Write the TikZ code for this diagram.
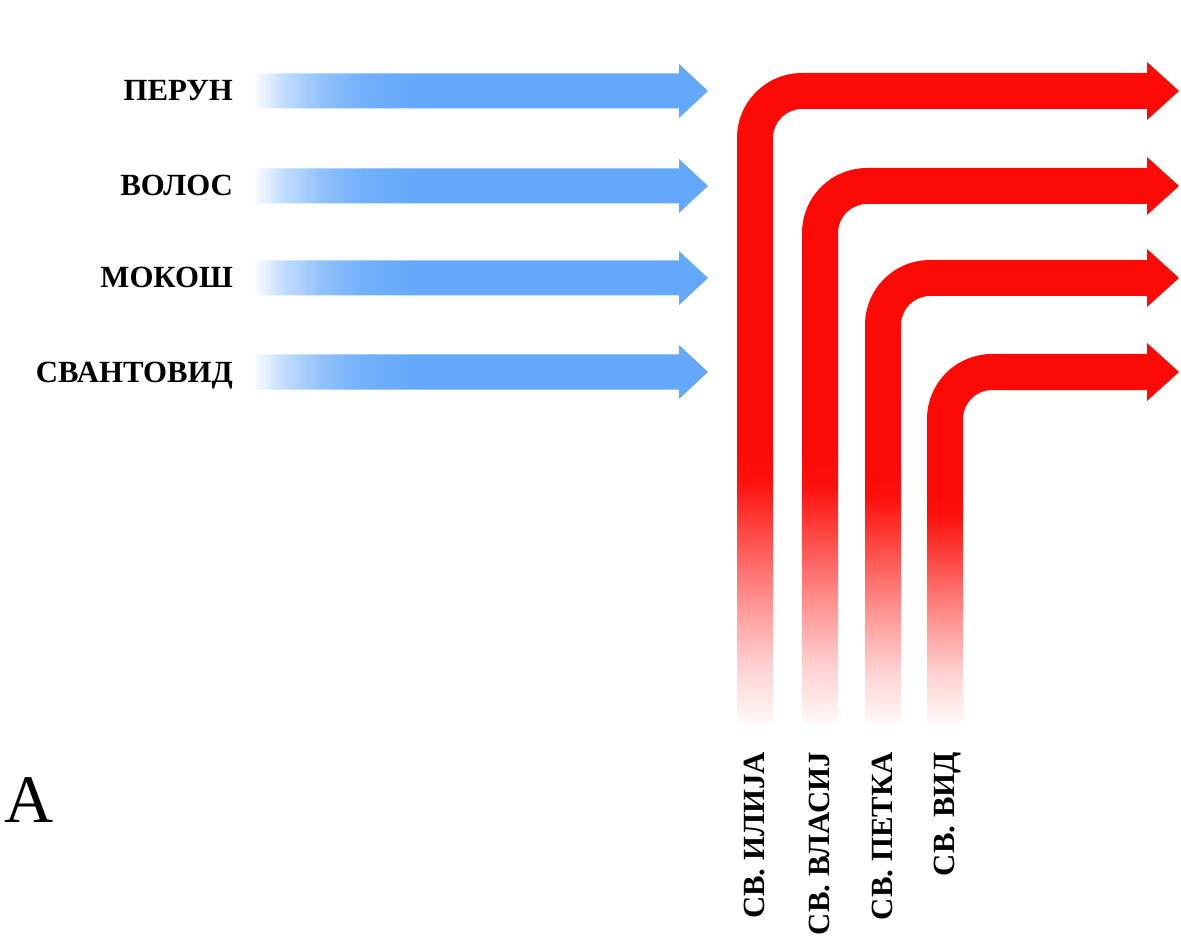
\documentclass[tikz,border=0pt]{standalone}
\usepackage{fontspec}
\setmainfont{Liberation Serif}
\definecolor{godblue}{RGB}{99,168,250}
\definecolor{saintred}{RGB}{252,10,5}
% blue arrow body: eases in from white at the tail, solid from about 40% on
\pgfdeclarehorizontalshading{bluefadein}{100bp}{color(0bp)=(white); color(25bp)=(white);
  color(28.5bp)=(godblue!40); color(32.5bp)=(godblue!70); color(37bp)=(godblue!90);
  color(43bp)=(godblue); color(100bp)=(godblue)}
% lower end of a red bar: solid at the top, easing out to white at the bottom
\pgfdeclareverticalshading{redfadeout}{100bp}{color(0bp)=(saintred!3); color(25bp)=(saintred!3);
  color(35bp)=(saintred!18); color(47.5bp)=(saintred!45); color(60bp)=(saintred!75);
  color(69bp)=(saintred!97); color(75bp)=(saintred); color(100bp)=(saintred)}
\begin{document}
\begin{tikzpicture}[x=1pt,y=1pt,
  godlabel/.style={font=\fontsize{30.8}{36}\selectfont\bfseries, inner sep=0pt, text=black},
  panelmark/.style={font=\fontsize{68}{80}\selectfont, inner sep=0pt, text=black}]
\useasboundingbox (0,0) rectangle (1181,-941);
\fill[white] (0,0) rectangle (1181,-941);

% pagan gods: blue arrows fading in from the left
\foreach \y/\name/\txt in {91/perun/ПЕРУН, 186/volos/ВОЛОС, 278/mokosh/МОКОШ, 372/svantovid/СВАНТОВИД}{
  \node[godlabel, anchor=base east] (\name) at (233,-\y-10) {\txt};
  \coordinate (\name-tip) at (708,-\y);
  \shade[shading=bluefadein] (252,-\y+17.5) -- (679,-\y+17.5) -- (679,-\y+27) -- (\name-tip)
    -- (679,-\y-27) -- (679,-\y-17.5) -- (252,-\y-17.5) -- cycle;
}

% saints: red bent arrows rising from below and turning right
\foreach \cx/\cy/\f/\name/\txt in {755/91/450/ilija/СВ. ИЛИЈА, 820/186/455/vlasij/СВ. ВЛАСИЈ, 883/278/470/petka/СВ. ПЕТКА, 945/372/490/vid/СВ. ВИД}{
  \coordinate (\name-tip) at (1179,-\cy);
  \fill[saintred] (\cx-18,-\f) -- (\cx-18,-\cy+18-65) arc[start angle=180,end angle=90,radius=65]
    -- (1147,-\cy+18) -- (1147,-\cy+29) -- (\name-tip) -- (1147,-\cy-29) -- (1147,-\cy-18)
    -- (\cx+18+29,-\cy-18) arc[start angle=90,end angle=180,radius=29]
    -- (\cx+18,-\f) -- cycle;
  \shade[shading=redfadeout] (\cx-18,-\f+1) rectangle (\cx+18,-722);
  \node[godlabel, rotate=90, anchor=base east] (\name) at (\cx+9,-752) {\txt};
}

\node[panelmark, anchor=base west] (panel) at (4,-822) {A};
\end{tikzpicture}
\end{document}
